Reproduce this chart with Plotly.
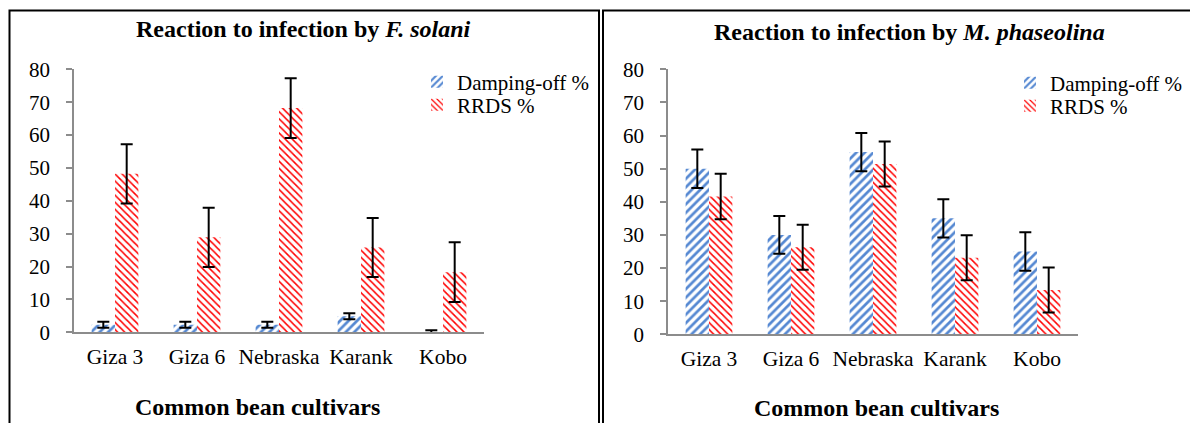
import plotly.graph_objects as go

# ---------------- data ----------------
cultivars = ["Giza 3", "Giza 6", "Nebraska", "Karank", "Kobo"]

fs_damping = [2.3, 2.3, 2.3, 4.9, 0.0]
fs_damping_err = [0.9, 0.9, 0.9, 0.9, 0.6]
fs_rrds = [48.2, 28.9, 68.2, 25.8, 18.3]
fs_rrds_err = [9.0, 9.0, 9.1, 9.0, 9.1]

mp_damping = [50.0, 30.0, 55.0, 35.0, 25.0]
mp_damping_err = [5.8, 5.7, 5.8, 5.8, 5.8]
mp_rrds = [41.6, 26.3, 51.4, 23.1, 13.4]
mp_rrds_err = [6.9, 6.8, 6.8, 6.8, 6.8]

y_ticks = [0, 10, 20, 30, 40, 50, 60, 70, 80]

series_names = ["Damping-off %", "RRDS %"]
left_title = "<b>Reaction to infection by <i>F. solani</i></b>"
right_title = "<b>Reaction to infection by <i>M. phaseolina</i></b>"
x_title = "<b>Common bean cultivars</b>"

# ---------------- layout helpers ----------------
W, H = 1190, 423
FONT = "Times New Roman, Liberation Serif, DejaVu Serif, serif"
BLUE = "#5588D2"
RED = "#FF0000"
AXIS = "#8C8C8C"


def px(x):
    return x / W


def py(y):
    return 1 - y / H


blue_marker = dict(color="white", line=dict(width=0),
                   pattern=dict(shape="/", fgcolor=BLUE, bgcolor="white",
                                size=6, solidity=0.45, fillmode="replace"))
red_marker = dict(color="white", line=dict(width=0),
                  pattern=dict(shape="\\", fgcolor=RED, bgcolor="white",
                               size=5, solidity=0.3, fillmode="replace"))


def err(vals):
    return dict(type="data", array=vals, color="black", thickness=2, width=6)


fig = go.Figure()
fig.add_trace(go.Bar(x=cultivars, y=fs_damping, name=series_names[0], marker=blue_marker,
                     error_y=err(fs_damping_err), xaxis="x", yaxis="y", legend="legend"))
fig.add_trace(go.Bar(x=cultivars, y=fs_rrds, name=series_names[1], marker=red_marker,
                     error_y=err(fs_rrds_err), xaxis="x", yaxis="y", legend="legend2"))
fig.add_trace(go.Bar(x=cultivars, y=mp_damping, name=series_names[0], marker=blue_marker,
                     error_y=err(mp_damping_err), xaxis="x2", yaxis="y2", legend="legend3"))
fig.add_trace(go.Bar(x=cultivars, y=mp_rrds, name=series_names[1], marker=red_marker,
                     error_y=err(mp_rrds_err), xaxis="x2", yaxis="y2", legend="legend4"))

xtickfont = dict(family=FONT, size=21.5, color="black")
ytickfont = dict(family=FONT, size=21, color="black")


def xax(domain, anchor):
    return dict(domain=domain, anchor=anchor, showline=True, linecolor=AXIS, linewidth=2,
                ticks="", showgrid=False, zeroline=False, tickfont=xtickfont,
                ticklabelstandoff=4, fixedrange=True, automargin=False)


def yax(domain, anchor):
    return dict(domain=domain, anchor=anchor, range=[0, 80], tickvals=y_ticks,
                showline=True, linecolor=AXIS, linewidth=1.5, ticks="outside",
                ticklen=6, tickwidth=1.5, tickcolor=AXIS, showgrid=False,
                zeroline=False, tickfont=ytickfont, ticklabelstandoff=12, fixedrange=True,
                automargin=False)


def leg(xp, yp):
    return dict(x=px(xp), y=py(yp), xanchor="left", yanchor="middle",
                font=dict(family=FONT, size=21, color="black"),
                bgcolor="rgba(0,0,0,0)", itemwidth=30, borderwidth=0,
                itemclick=False, itemdoubleclick=False)


fig.update_layout(
    width=W, height=H, autosize=False,
    margin=dict(l=0, r=0, t=0, b=0, pad=0, autoexpand=False),
    paper_bgcolor="white", plot_bgcolor="white",
    barmode="group", bargap=0.43, bargroupgap=0,
    showlegend=True,
    xaxis=xax([px(74), px(484)], "y"),
    yaxis=yax([py(332.3), py(69.3)], "x"),
    xaxis2=xax([px(668), px(1078)], "y2"),
    yaxis2=yax([py(334.3), py(69.3)], "x2"),
    legend=leg(417, 82),
    legend2=leg(417, 105),
    legend3=leg(1010, 83),
    legend4=leg(1010, 106),
)

title_font = dict(family=FONT, size=24, color="black")
fig.add_annotation(text=left_title, x=px(303), y=py(29), xref="paper", yref="paper",
                   showarrow=False, font=title_font, xanchor="center", yanchor="middle")
fig.add_annotation(text=right_title, x=px(909.5), y=py(32), xref="paper", yref="paper",
                   showarrow=False, font=title_font, xanchor="center", yanchor="middle")
fig.add_annotation(text=x_title, x=px(257), y=py(422), xref="paper", yref="paper",
                   showarrow=False, font=title_font, xanchor="center", yanchor="bottom")
fig.add_annotation(text=x_title, x=px(876.5), y=py(422.5), xref="paper", yref="paper",
                   showarrow=False, font=title_font, xanchor="center", yanchor="bottom")

# panel borders
fig.add_shape(type="rect", xref="paper", yref="paper", x0=px(9.5), x1=px(599),
              y0=py(440), y1=py(10.5), line=dict(color="black", width=2))
fig.add_shape(type="rect", xref="paper", yref="paper", x0=px(603), x1=px(1205),
              y0=py(440), y1=py(10.5), line=dict(color="black", width=2))

fig.write_html("out.html", config={"displayModeBar": False},
               post_script="document.body.style.margin='0';document.body.style.overflow='hidden';")
